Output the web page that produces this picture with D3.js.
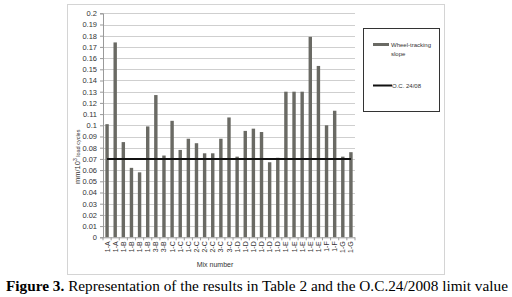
<!DOCTYPE html>
<html>
<head>
<meta charset="utf-8">
<script src="https://cdn.jsdelivr.net/npm/d3@7"></script>
<style>
  body { margin: 0; background: #fff; }
  svg { display: block; }
</style>
</head>
<body>
<div id="chart"></div>
<script>
// data
const mixLabels = ["1-A","1-A","1-B","1-B","1-B","1-B","3-B","3-B","1-C","1-C","1-C","2-C","2-C","2-C","3-C","3-C",
                   "1-D","1-D","1-D","1-D","1-D","1-D","1-E","1-E","1-E","1-E","1-E","1-F","1-F","1-G","1-G"];
const slopeValues = [0.101,0.174,0.085,0.062,0.058,0.099,0.127,0.073,0.104,0.078,0.088,0.084,0.075,0.075,0.088,0.107,
                     0.072,0.095,0.097,0.094,0.067,0.071,0.130,0.130,0.130,0.179,0.153,0.100,0.113,0.072,0.076];
const limitValue = 0.07;
const yTicks = d3.range(0, 21).map(d => d / 100);
const legendItems = ["Wheel-tracking slope", "O.C. 24/08"];
const caption = ["Figure 3.", " Representation of the results in Table 2 and the O.C.24/2008 limit value"];

const W = 512, H = 297;
const svg = d3.select("#chart").append("svg")
    .attr("width", W).attr("height", H);

// outer chart frame
svg.append("rect")
    .attr("x", 67.5).attr("y", 4.5).attr("width", 377).attr("height", 270)
    .attr("fill", "#fff").attr("stroke", "#d4d4d4");

const plot = {left: 103, right: 355, top: 13.3, bottom: 237.3};

const x = d3.scaleBand()
    .domain(d3.range(slopeValues.length))
    .range([plot.left, plot.right])
    .paddingInner(0.58)
    .paddingOuter(0.29);

const y = d3.scaleLinear()
    .domain([0, 0.2])
    .range([plot.bottom, plot.top]);

// gridlines
svg.append("g")
  .selectAll("line")
  .data(yTicks.slice(1))
  .join("line")
    .attr("x1", plot.left).attr("x2", plot.right)
    .attr("y1", d => Math.round(y(d)) + 0.5).attr("y2", d => Math.round(y(d)) + 0.5)
    .attr("stroke", "#cfcfcf").attr("stroke-width", 1);

// y axis
const yAxis = svg.append("g")
    .attr("transform", `translate(${plot.left},0)`)
    .call(d3.axisLeft(y).tickValues(yTicks).tickSize(3).tickPadding(3)
      .tickFormat(d => d === 0 ? "0" : d3.format("")(+d.toFixed(2))));
yAxis.select(".domain").attr("stroke", "#9a9a9a");
yAxis.selectAll(".tick line").attr("stroke", "#9a9a9a");
yAxis.selectAll("text")
    .attr("fill", "#333")
    .style("font", "7.5px 'Liberation Sans', Arial, sans-serif");

// bars
svg.append("g")
  .selectAll("rect")
  .data(slopeValues)
  .join("rect")
    .attr("x", (d, i) => x(i))
    .attr("y", d => y(d))
    .attr("width", x.bandwidth())
    .attr("height", d => plot.bottom - y(d))
    .attr("fill", "#6a6a64");

// x axis
const step = x.step();
svg.append("line")
    .attr("x1", plot.left).attr("x2", plot.right)
    .attr("y1", plot.bottom + 0.5).attr("y2", plot.bottom + 0.5)
    .attr("stroke", "#9a9a9a");
svg.append("g")
  .selectAll("line")
  .data(d3.range(slopeValues.length + 1))
  .join("line")
    .attr("x1", i => x(Math.min(i, slopeValues.length - 1)) + (i < slopeValues.length ? -step * 0.29 : x.bandwidth() + step * 0.29))
    .attr("x2", i => x(Math.min(i, slopeValues.length - 1)) + (i < slopeValues.length ? -step * 0.29 : x.bandwidth() + step * 0.29))
    .attr("y1", plot.bottom).attr("y2", plot.bottom + 3)
    .attr("stroke", "#9a9a9a");

svg.append("g")
  .selectAll("text")
  .data(mixLabels)
  .join("text")
    .attr("transform", (d, i) => `translate(${x(i) + x.bandwidth() / 2 + 2.5},${plot.bottom + 4}) rotate(-90)`)
    .attr("text-anchor", "end")
    .attr("fill", "#333")
    .style("font", "7px 'Liberation Sans', Arial, sans-serif")
    .text(d => d);

// limit line O.C. 24/08
const line = d3.line()
    .x((d, i) => x(i) + x.bandwidth() / 2)
    .y(d => y(d));
svg.append("path")
    .datum(slopeValues.map(() => limitValue))
    .attr("d", line)
    .attr("fill", "none")
    .attr("stroke", "#111")
    .attr("stroke-width", 2);

// axis titles
const yTitle = svg.append("text")
    .attr("transform", "translate(80,184) rotate(-90)")
    .attr("fill", "#333")
    .style("font", "7.5px 'Liberation Sans', Arial, sans-serif");
yTitle.append("tspan").text("mm/10");
yTitle.append("tspan").attr("dy", -3).style("font-size", "5px").text("3");
yTitle.append("tspan").attr("dy", 3).attr("dx", 1.5).style("font-size", "5.5px").text("load cycles");

svg.append("text")
    .attr("x", 215).attr("y", 267)
    .attr("text-anchor", "middle")
    .attr("fill", "#333")
    .style("font", "7px 'Liberation Sans', Arial, sans-serif")
    .text("Mix number");

// legend
const legend = svg.append("g");
legend.append("rect")
    .attr("x", 363.5).attr("y", 28.5).attr("width", 76).attr("height", 83)
    .attr("fill", "#fff").attr("stroke", "#333");
legend.append("line")
    .attr("x1", 373).attr("x2", 389).attr("y1", 44.5).attr("y2", 44.5)
    .attr("stroke", "#6a6a64").attr("stroke-width", 3);
const lt = legend.append("text")
    .attr("fill", "#333")
    .style("font", "6px 'Liberation Sans', Arial, sans-serif");
lt.append("tspan").attr("x", 391).attr("y", 47).text(legendItems[0].split(" ")[0]);
lt.append("tspan").attr("x", 391).attr("y", 55.5).text(legendItems[0].split(" ")[1]);
legend.append("line")
    .attr("x1", 373).attr("x2", 392).attr("y1", 85.5).attr("y2", 85.5)
    .attr("stroke", "#111").attr("stroke-width", 2);
legend.append("text")
    .attr("x", 392).attr("y", 88)
    .attr("fill", "#333")
    .style("font", "6px 'Liberation Sans', Arial, sans-serif")
    .text(legendItems[1]);

// caption
const cap = svg.append("text")
    .attr("x", 6).attr("y", 291)
    .attr("textLength", 502).attr("lengthAdjust", "spacingAndGlyphs")
    .style("font", "14px 'Liberation Serif', 'Times New Roman', serif")
    .attr("fill", "#000");
cap.append("tspan").style("font-weight", "bold").text(caption[0]);
cap.append("tspan").text(caption[1]);
</script>
</body>
</html>
